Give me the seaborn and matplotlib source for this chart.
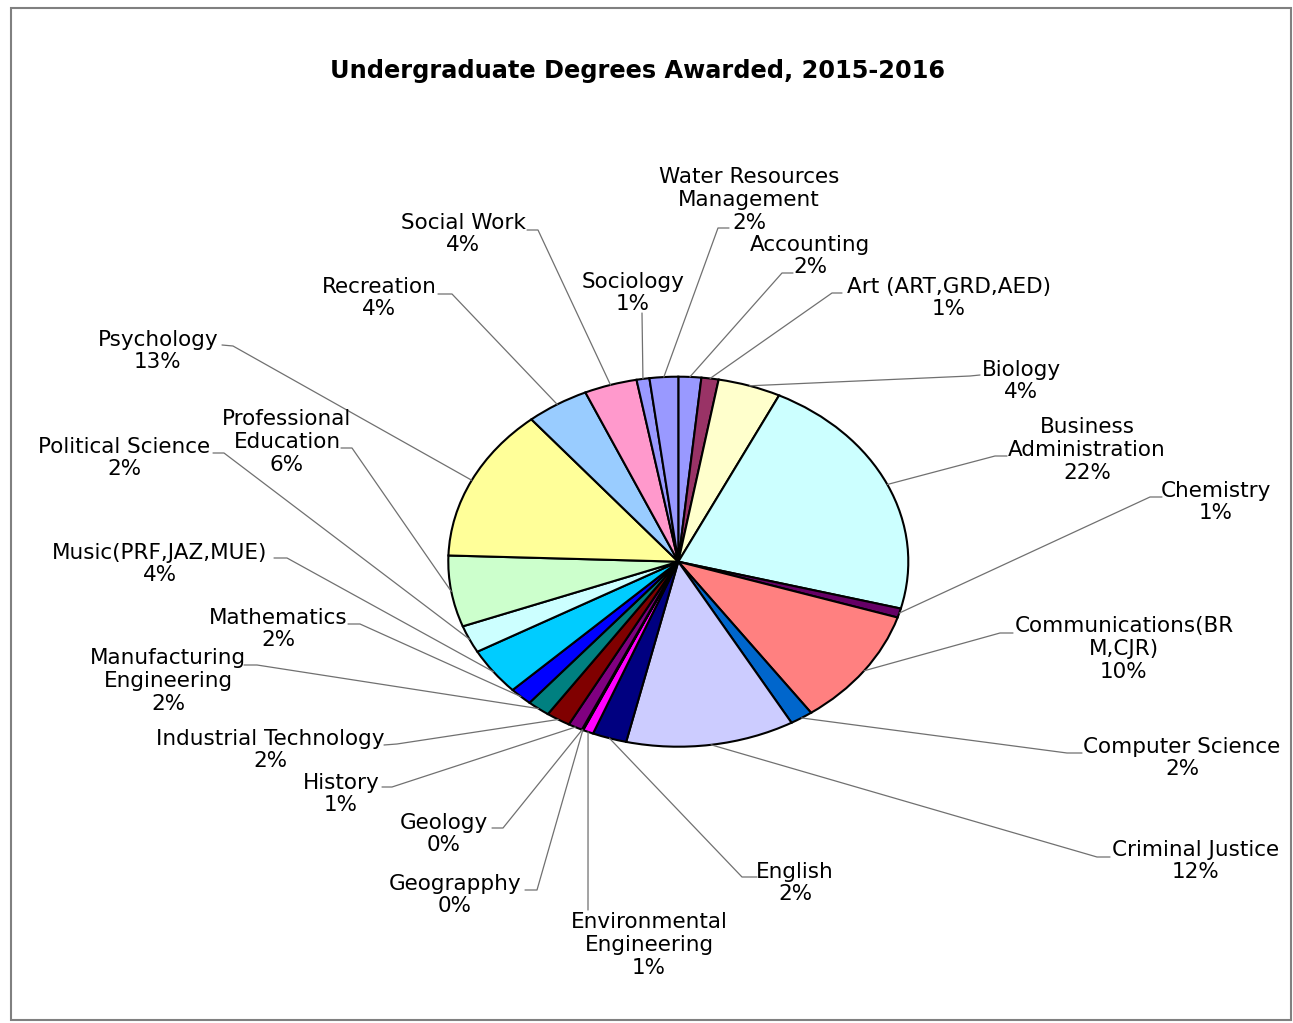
import numpy as np
import matplotlib
matplotlib.use("Agg")
import matplotlib.pyplot as plt
from matplotlib.patches import Rectangle
import seaborn as sns

# ---- data -------------------------------------------------------------
title = "Undergraduate Degrees Awarded, 2015-2016"

categories = [
    "Accounting", "Art (ART,GRD,AED)", "Biology", "Business\nAdministration",
    "Chemistry", "Communications(BR\nM,CJR)", "Computer Science",
    "Criminal Justice", "English", "Environmental\nEngineering", "Geograpphy",
    "Geology", "History", "Industrial Technology", "Manufacturing\nEngineering",
    "Mathematics", "Music(PRF,JAZ,MUE)", "Political Science",
    "Professional\nEducation", "Psychology", "Recreation", "Social Work",
    "Sociology", "Water Resources\nManagement",
]

# share of degrees, in percent
shares = [
    1.6, 1.2, 4.4, 21.8,
    0.8, 10.3, 1.6,
    11.8, 2.4, 0.74, 0.05,
    0.05, 1.0, 1.7, 1.6,
    1.6, 4.1, 2.4,
    6.2, 13.4, 4.4, 3.7,
    0.9, 2.0,
]

slice_colors = [
    "#9999FF", "#993366", "#FFFFCC", "#CCFFFF",
    "#660066", "#FF8080", "#0066CC", "#CCCCFF",
    "#000080", "#FF00FF", "#FFFF00", "#00FFFF",
    "#800080", "#800000", "#008080", "#0000FF",
    "#00CCFF", "#CCFFFF", "#CCFFCC", "#FFFF99",
    "#99CCFF", "#FF99CC", "#9999FF", "#9999FF",
]

# ---- layout (pixels, origin top-left) ----------------------------------
W, H = 1293, 1023
PIE_CX, PIE_CY = 678.3, 561.7
PIE_RX, PIE_RY = 230.0, 185.0
MARGIN = 1.03

# text-block centre, leader end at the label, leader knee
label_layout = [
    ((810, 256), (793, 273), (782, 273)),
    ((949, 298), (842, 293), (832, 293)),
    ((1021, 381), (980, 375), (970, 376)),
    ((1087, 450), (1007, 456), (995, 456)),
    ((1216, 502), (1162, 497), (1150, 497)),
    ((1124, 649), (1013, 633), (1000, 633)),
    ((1182, 758), (1082, 753), (1067, 753)),
    ((1196, 861), (1110, 857), (1097, 857)),
    ((795, 883), (757, 877), (742, 877)),
    ((649, 945), (588, 910), (588, 910)),
    ((455, 895), (525, 890), (537, 890)),
    ((444, 834), (492, 828), (503, 828)),
    ((341, 794), (382, 787), (392, 787)),
    ((270, 750), (384, 745), (397, 744)),
    ((168, 681), (244, 665), (257, 665)),
    ((278, 629), (348, 624), (360, 624)),
    ((160, 564), (274, 558), (287, 558)),
    ((124, 458), (213, 453), (224, 453)),
    ((287, 442), (341, 448), (352, 448)),
    ((158, 351), (222, 345), (233, 346)),
    ((379, 298), (438, 294), (452, 294)),
    ((463, 234), (527, 230), (538, 230)),
    ((633, 293), (642, 313), (642, 313)),
    ((749, 200), (729, 228), (718, 228)),
]

sns.set_theme(style="white")
plt.rcParams["font.family"] = ["DejaVu Sans"]

fig = plt.figure(figsize=(W / 100, H / 100), dpi=100)
fig.patch.set_facecolor("white")

# pie axes: stretched box so the pie is drawn as an ellipse
hw, hh = PIE_RX * MARGIN, PIE_RY * MARGIN
ax = fig.add_axes([(PIE_CX - hw) / W, 1 - (PIE_CY + hh) / H, 2 * hw / W, 2 * hh / H])
palette = sns.color_palette(slice_colors)
wedges, _ = ax.pie(
    shares, colors=palette, startangle=90, counterclock=False,
    wedgeprops=dict(edgecolor="black", linewidth=1.5),
)
ax.set_aspect("auto")
ax.set_xlim(-MARGIN, MARGIN)
ax.set_ylim(-MARGIN, MARGIN)
ax.axis("off")

# overlay axes in pixel coordinates for labels and leader lines
ov = fig.add_axes([0, 0, 1, 1], zorder=3)
ov.set_xlim(0, W)
ov.set_ylim(H, 0)
ov.axis("off")

ov.add_patch(Rectangle((11, 8), 1280, 1012, fill=False,
                       edgecolor="#808080", linewidth=1.5))

ov.text(637.5, 71, title, fontsize=17.3, fontweight="bold",
        ha="center", va="center", color="black")

total = sum(shares)
to_ov = ov.transData.inverted()
for wedge, name, share, (txt, end, knee) in zip(wedges, categories, shares, label_layout):
    mid = np.deg2rad(0.5 * (wedge.theta1 + wedge.theta2))
    px, py = to_ov.transform(ax.transData.transform((np.cos(mid), np.sin(mid))))
    ov.plot([px, knee[0], end[0]], [py, knee[1], end[1]],
            color="#707070", linewidth=0.9)
    pct = int(round(share / total * 100))
    ov.text(txt[0], txt[1], f"{name}\n{pct}%", fontsize=15.5,
            ha="center", va="center", multialignment="center",
            linespacing=1.18, color="black")

fig.savefig("out.png", dpi=100, facecolor="white")
